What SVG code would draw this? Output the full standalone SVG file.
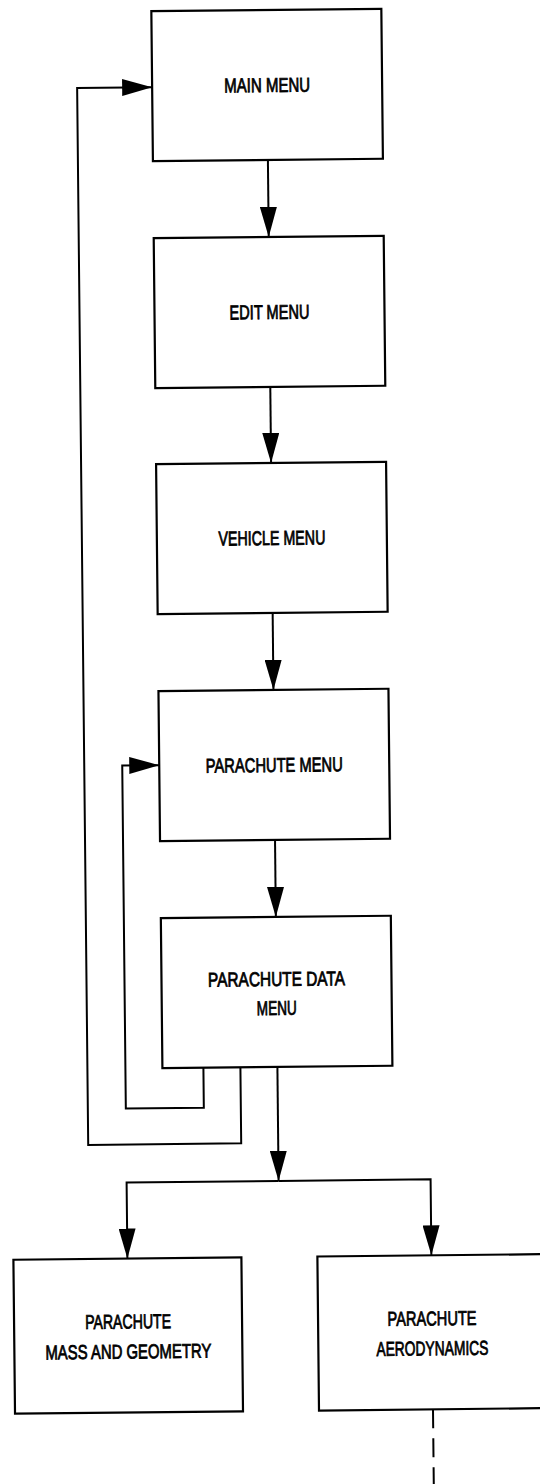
<svg xmlns="http://www.w3.org/2000/svg" width="540" height="1484" viewBox="0 0 540 1484">
<style>
.box{fill:#fff;stroke:#000;stroke-width:2.2}
.lbl{font-family:"Liberation Sans Narrow","Liberation Sans",Arial,sans-serif;font-size:20px;fill:#000;stroke:#000;stroke-width:0.8;text-anchor:middle}
.con{fill:none;stroke:#000;stroke-width:2;stroke-linejoin:miter}
.dash{fill:none;stroke:#000;stroke-width:2;stroke-dasharray:19 10}
</style>
<defs>
<marker id="ah" markerUnits="userSpaceOnUse" markerWidth="31" markerHeight="17" refX="30" refY="8.5" orient="auto" viewBox="0 0 31 17">
<path d="M0,0 L30,8.5 L0,17 Z" fill="#000"/>
</marker>
</defs>
<rect width="540" height="1484" fill="#fff"/>
<g transform="rotate(-0.6 270 742)">
<g id="connectors">
<path class="con" d="M274,160 L274,237" marker-end="url(#ah)"/>
<path class="con" d="M274,387 L274,463" marker-end="url(#ah)"/>
<path class="con" d="M274,613 L274,690" marker-end="url(#ah)"/>
<path class="con" d="M274,840 L274,917" marker-end="url(#ah)"/>
<path class="con" d="M274,1067 L274,1181" marker-end="url(#ah)"/>
<path class="con" d="M274,1181 L122,1181 L122,1257" marker-end="url(#ah)"/>
<path class="con" d="M274,1181 L426,1181 L426,1257" marker-end="url(#ah)"/>
<path class="con" d="M237,1067 L237,1143 L84,1143 L84,86 L159,86" marker-end="url(#ah)"/>
<path class="con" d="M200,1067 L200,1107 L122,1107 L122,764 L159,764" marker-end="url(#ah)"/>
<path class="dash" d="M426,1411 L426,1500"/>
</g>
<g id="main-menu">
<rect class="box" x="159" y="10" width="230" height="150"/>
<text class="lbl" x="274" y="92" textLength="86" lengthAdjust="spacingAndGlyphs">MAIN MENU</text>
</g>
<g id="edit-menu">
<rect class="box" x="159" y="237" width="230" height="150"/>
<text class="lbl" x="274" y="319" textLength="80" lengthAdjust="spacingAndGlyphs">EDIT MENU</text>
</g>
<g id="vehicle-menu">
<rect class="box" x="159" y="463" width="230" height="150"/>
<text class="lbl" x="274" y="545" textLength="107" lengthAdjust="spacingAndGlyphs">VEHICLE MENU</text>
</g>
<g id="parachute-menu">
<rect class="box" x="159" y="690" width="230" height="150"/>
<text class="lbl" x="274" y="772" textLength="137" lengthAdjust="spacingAndGlyphs">PARACHUTE MENU</text>
</g>
<g id="parachute-data-menu">
<rect class="box" x="159" y="917" width="230" height="150"/>
<text class="lbl" x="274" y="986" textLength="137" lengthAdjust="spacingAndGlyphs">PARACHUTE DATA</text>
<text class="lbl" x="274" y="1015" textLength="40" lengthAdjust="spacingAndGlyphs">MENU</text>
</g>
<g id="mass-geometry">
<rect class="box" x="8" y="1257" width="228" height="154"/>
<text class="lbl" x="122" y="1327" textLength="86" lengthAdjust="spacingAndGlyphs">PARACHUTE</text>
<text class="lbl" x="122" y="1357" textLength="166" lengthAdjust="spacingAndGlyphs">MASS AND GEOMETRY</text>
</g>
<g id="aerodynamics">
<rect class="box" x="312" y="1257" width="228" height="154"/>
<text class="lbl" x="426" y="1327" textLength="89" lengthAdjust="spacingAndGlyphs">PARACHUTE</text>
<text class="lbl" x="426" y="1357" textLength="112" lengthAdjust="spacingAndGlyphs">AERODYNAMICS</text>
</g>
</g>
</svg>
